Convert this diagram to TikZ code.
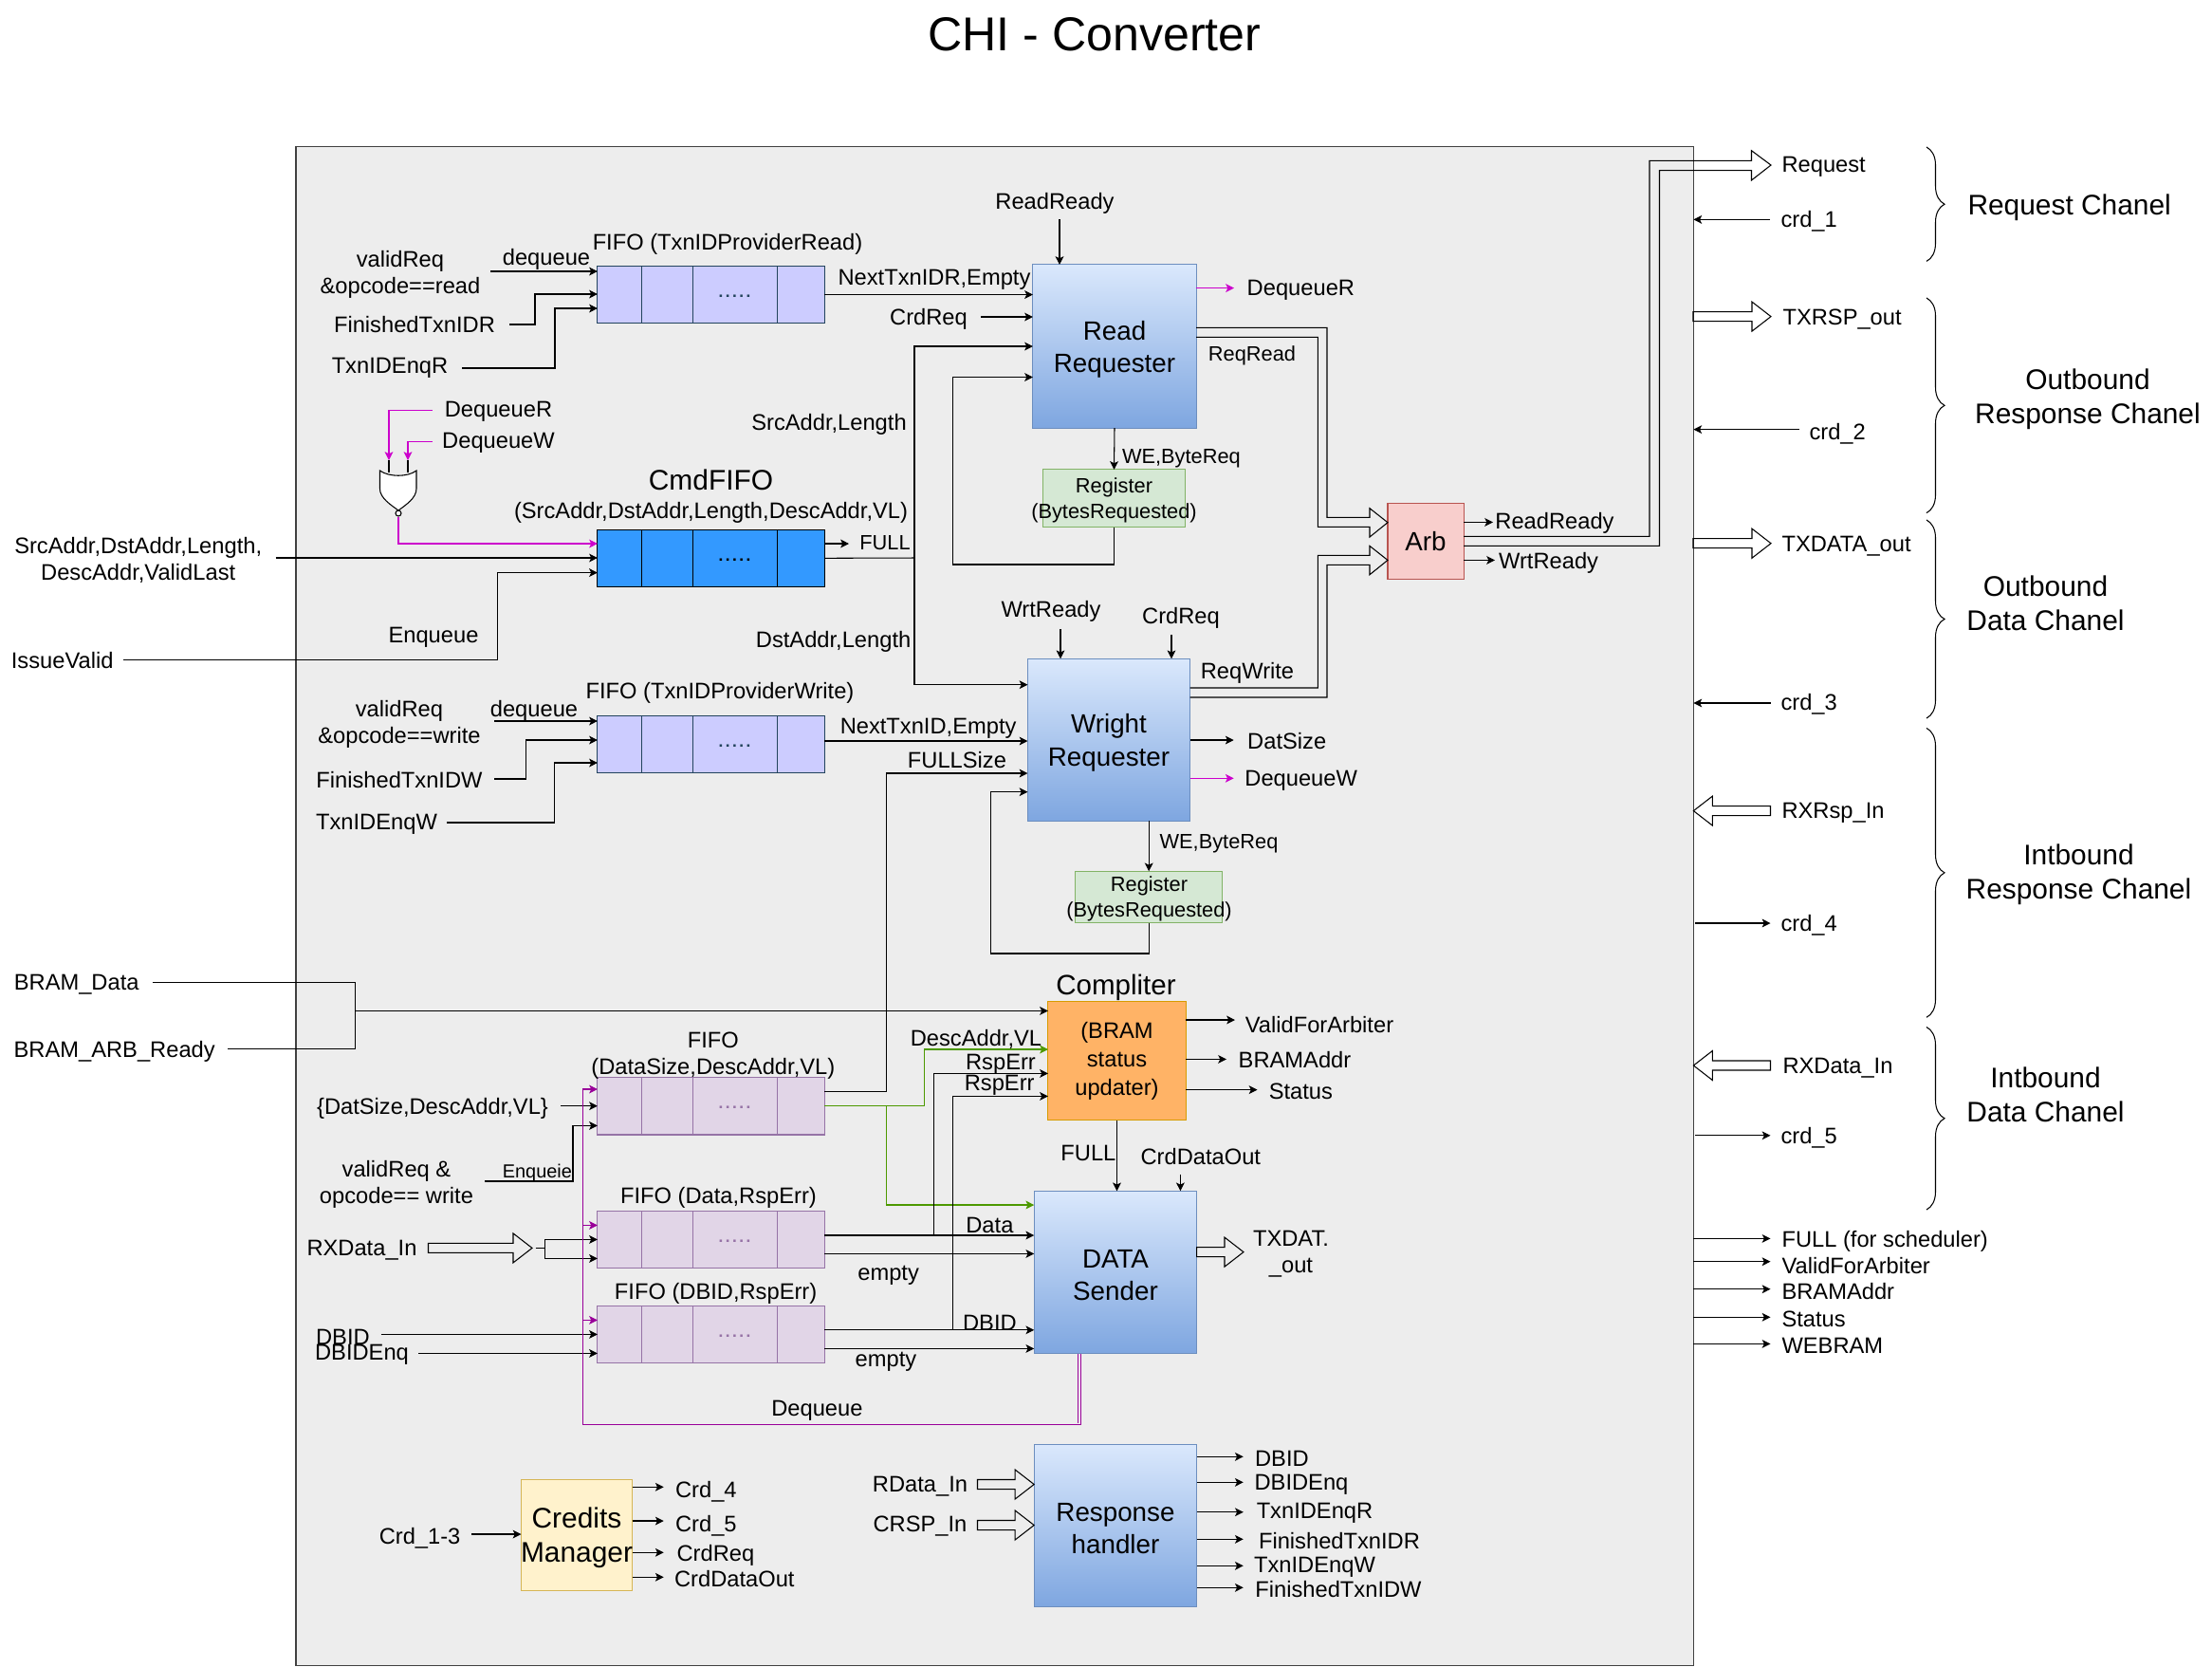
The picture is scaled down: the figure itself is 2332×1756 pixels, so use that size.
\documentclass[tikz,border=0pt]{standalone}
\usepackage{fontspec}
\setmainfont{Liberation Sans}
\usetikzlibrary{arrows.meta}
\usetikzlibrary{calc}
\usetikzlibrary{decorations.pathreplacing}
\definecolor{fifolight}{HTML}{CCCCFF}
\definecolor{fifolightline}{HTML}{23445D}
\definecolor{fifocmd}{HTML}{3399FF}
\definecolor{fifopurple}{HTML}{E1D5E7}
\definecolor{fifopurpleline}{HTML}{9673A6}
\definecolor{blocktop}{HTML}{DAE8FC}
\definecolor{blockbot}{HTML}{7EA6E0}
\definecolor{blockline}{HTML}{6C8EBF}
\definecolor{regfill}{HTML}{D5E8D4}
\definecolor{regline}{HTML}{82B366}
\definecolor{arbfill}{HTML}{F8CECC}
\definecolor{arbline}{HTML}{B85450}
\definecolor{cmplfill}{HTML}{FFB366}
\definecolor{cmplline}{HTML}{D79B00}
\definecolor{crmfill}{HTML}{FFF2CC}
\definecolor{crmline}{HTML}{D6B656}
\definecolor{sigpink}{HTML}{CC00CC}
\definecolor{sigpurple}{HTML}{990099}
\definecolor{siggreen}{HTML}{4D9900}
\tikzset{>={Stealth[length=2.5pt,width=2.5pt,inset=0.6pt]}}
\tikzset{
  lbl/.style={inner sep=0pt,align=center,yshift=-0.022cm,font=\fontsize{6.74pt}{8.1pt}\selectfont},
  lblS/.style={inner sep=0pt,align=center,yshift=-0.022cm,font=\fontsize{6.2pt}{7.7pt}\selectfont},
  lblXS/.style={inner sep=0pt,align=center,yshift=-0.022cm,font=\fontsize{5.66pt}{6.8pt}\selectfont},
  lblM/.style={inner sep=0pt,align=center,yshift=-0.03cm,font=\fontsize{7.9pt}{9.7pt}\selectfont},
  lblL/.style={inner sep=0pt,align=center,yshift=-0.03cm,font=\fontsize{8.5pt}{10.3pt}\selectfont},
  fifobox/.style={rectangle,draw,outer sep=0pt,minimum width=2.39cm,minimum height=0.605cm},
  block/.style={rectangle,draw=blockline,top color=blocktop,bottom color=blockbot,outer sep=0pt,inner sep=0pt},
  plainbox/.style={rectangle,draw,outer sep=0pt,inner sep=0pt,align=center}
}
% wide hollow arrow between two points of the same height
\newcommand{\fatarrow}[2]{
  \coordinate (fbase) at ($(#2)!0.2cm!(#1)$);
  \draw ([yshift=0.05cm]#1) -- ([yshift=0.05cm]fbase) -- ([yshift=0.155cm]fbase) -- (#2)
    -- ([yshift=-0.155cm]fbase) -- ([yshift=-0.05cm]fbase) -- ([yshift=-0.05cm]#1) -- cycle;
}
\begin{document}
\begin{tikzpicture}[x=0.01cm,y=-0.01cm,line width=0.3pt]
  \useasboundingbox (0,0) rectangle (2332,1756);

  \node[inner sep=0pt,font=\fontsize{14.25pt}{17pt}\selectfont] (title) at (1154,36) {CHI - Converter};
  \node[plainbox,draw=black!75,fill=black!7,minimum width=14.725cm,minimum height=16.0cm] (base) at (1048.7,955.2) {};

  % FIFOs
  \node[fifobox,draw=fifolightline,fill=fifolight] (fifoR) at (749.5,310.5) {};
  \node[fifobox,draw=black,fill=fifocmd] (fifoC) at (749.5,588.3) {};
  \node[fifobox,draw=fifolightline,fill=fifolight] (fifoW) at (749.5,784.3) {};
  \node[fifobox,draw=fifopurpleline,fill=fifopurple] (fifoD) at (749.5,1165.7) {};
  \node[fifobox,draw=fifopurpleline,fill=fifopurple] (fifoE) at (749.5,1306.4) {};
  \node[fifobox,draw=fifopurpleline,fill=fifopurple] (fifoB) at (749.5,1406.4) {};
  \foreach \fn/\fc in {fifoR/fifolightline,fifoC/black,fifoW/fifolightline,fifoD/fifopurpleline,fifoE/fifopurpleline,fifoB/fifopurpleline}{
    \foreach \dx in {0.465,1.006,1.894}
      \draw[\fc] ([xshift=\dx cm]\fn.north west) -- ([xshift=\dx cm]\fn.south west);
    \node[inner sep=0pt,text=\fc,font=\fontsize{6.74pt}{8.1pt}\selectfont,xscale=1.1] (\fn dots) at ([shift={(25,1.5)}]\fn.center) {.....};
  }

  % Blocks
  \node[block,minimum width=1.72cm,minimum height=1.72cm] (rqR) at (1175,365) {};
  \node[block,minimum width=1.71cm,minimum height=1.71cm] (rqW) at (1169,779.8) {};
  \node[block,minimum width=1.714cm,minimum height=1.714cm] (snd) at (1176,1341) {};
  \node[block,minimum width=1.716cm,minimum height=1.714cm] (rsp) at (1176,1608) {};
  \node[lblM] (rqRText) at (rqR) {Read\\Requester};
  \node[lblM] (rqWText) at (rqW) {Wright\\Requester};
  \node[lblM] (sndText) at (snd) {DATA\\Sender};
  \node[lblM] (rspText) at (rsp) {Response\\handler};
  \node[plainbox,draw=regline,fill=regfill,minimum width=1.5cm,minimum height=0.607cm] (regR) at (1174.5,525.3) {};
  \node[plainbox,draw=regline,fill=regfill,minimum width=1.55cm,minimum height=0.544cm] (regW) at (1211.2,945.5) {};
  \node[plainbox,draw=arbline,fill=arbfill,minimum width=0.8cm,minimum height=0.8cm,font=\fontsize{7.9pt}{9.7pt}\selectfont] (arb) at (1503,570.5) {Arb};
  \node[plainbox,draw=cmplline,fill=cmplfill,minimum width=1.45cm,minimum height=1.25cm,font=\fontsize{6.74pt}{8.5pt}\selectfont] (cmpl) at (1177.5,1118) {(BRAM\\status\\updater)};
  \node[plainbox,draw=crmline,fill=crmfill,minimum width=1.17cm,minimum height=1.174cm] (crm) at (608,1618) {};
  \node[lblL,font=\fontsize{8.5pt}{10.3pt}\selectfont] (crmText) at (608,1618) {Credits\\Manager};
  \node[lblS] (regRText) at (1174.5,525) {Register\\(BytesRequested)};
  \node[lblS] (regWText) at (1211.5,945.2) {Register\\(BytesRequested)};

  % Free ends
  \foreach \n/\x/\y in {deqRin/517/286,finRin/537/342,enqRin/487/388,crdRin/1034/334,
      deqRa/455.6/432.5,deqWa/455.6/465.7,gateA/410/485,gateB/430/485,gateAp/410/498,gateBp/430/498,
      cmdIn/290.7/588,issueIn/130/695.5,deqWin/521/760,finWin/521/821,enqWin/471.4/867,
      brD/160.7/1035.5,brA/240/1105.7,brJ/374.3/1065.4,dsIn/591/1165.7,enqDin/511/1245,
      dbidIn/401.6/1406.4,dbenqIn/441/1426.4,crdIn/497.3/1617,busB/614.6/1501.4,
      rxA/451.5/1315.4,rxTip/561/1315.4,rxS/564.6/1315.4,rxJ/574.4/1315.4,
      fullC/895/573,cmdJ/964/588,deqRout/1301/303.6,datOut/1300.7/780,deqWout/1300.7/820.3,
      rdyIn/1117/231,wrIn/1118/663,crIn/1235/669,rrOut/1574/550.4,wrOut/1576/590.4,
      vfaOut/1302/1075,baOut/1293/1116.4,stOut/1325.5/1148.6,cdoIn/1244.4/1237.5,
      reqTip/1867/174,txdA/1261.7/1319.6,txdTip/1311/1319.6,rdA/1030.5/1564.5,crspA/1030.5/1607.5,
      txrspA/1785/333.6,txrspTip/1867/333.6,txdatA/1785/572.7,txdatTip/1867/572.7,
      rxrspA/1866.5/854.6,rxdatA/1866.5/1123,
      crd1/1866/231.4,crd2/1896.6/452.6,crd3/1867/741,crd4/1866.5/973,crd5/1866.5/1196.8,
      outFull/1866.5/1305.4,outVfa/1866.5/1329.7,outBa/1866.5/1358.7,outSt/1866.5/1388.3,outWe/1866.5/1416.4,
      rspA/1310.8/1535.3,rspB/1310.8/1562.3,rspC/1310.8/1593.7,rspD/1310.8/1622.3,rspE/1310.8/1650.3,rspF/1310.8/1673.3,
      crmA/699.7/1567.3,crmB/699.7/1603,crmC/699.7/1636.3,crmD/699.7/1662.3}
    \coordinate (\n) at (\x,\y);

  % FIFO read
  \draw[->] (deqRin) -- (fifoR.west |- deqRin);
  \draw[->] (finRin) -| (564,310) -- (fifoR.west |- 0,310);
  \draw[->] (enqRin) -| (585,325) -- (fifoR.west |- 0,325);
  \draw[->] (fifoR.east) -- (rqR.west |- fifoR.east);
  \draw[->] (crdRin) -- (rqR.west |- crdRin);

  % Gate
  \draw[sigpink,->] (deqRa) -| (gateA);
  \draw[sigpink,->] (deqWa) -| (gateB);
  \draw (gateA) -- (gateAp);
  \draw (gateB) -- (gateBp);
  \draw[fill=white] (400.5,496) .. controls (410,503) and (430,503) .. (439,496) -- (439,515)
    .. controls (439,525) and (428,532) .. (420,538) .. controls (412,532) and (400.5,525) .. (400.5,515) -- cycle;
  \node[circle,draw,fill=white,inner sep=0pt,minimum size=0.06cm] (nor) at (420,541) {};
  \draw[sigpink,->] (nor.south) |- (fifoC.west |- 0,573);

  % CmdFIFO
  \draw[->] (cmdIn) -- (fifoC.west |- cmdIn);
  \draw[->] (issueIn) -| (524.5,603.6) -- (fifoC.west |- 0,603.6);
  \draw[->] (fifoC.east |- fullC) -- (fullC);
  \draw (fifoC.east) -- (cmdJ);
  \draw[->] (cmdJ) |- (rqR.west |- 0,365);
  \draw[->] (cmdJ) |- (rqW.west |- 0,721.7);

  % FIFO write
  \draw[->] (deqWin) -- (fifoW.west |- deqWin);
  \draw[->] (finWin) -| (554.6,780) -- (fifoW.west |- 0,780);
  \draw[->] (enqWin) -| (584.7,804) -- (fifoW.west |- 0,804);
  \draw[->] (fifoW.east |- 0,781) -- (rqW.west |- 0,781);

  % Requesters
  \draw[->] (rdyIn) -- (rqR.north -| rdyIn);
  \draw[sigpink,->] (rqR.east |- deqRout) -- (deqRout);
  \draw[->] (rqR.south) -- (regR.north);
  \draw[->] (regR.south) |- (1004.6,595) |- (rqR.west |- 0,397.5);
  \draw[->] (wrIn) -- (rqW.north -| wrIn);
  \draw[->] (crIn) -- (rqW.north -| crIn);
  \draw[->] (rqW.east |- datOut) -- (datOut);
  \draw[sigpink,->] (rqW.east |- deqWout) -- (deqWout);
  \draw[->] (rqW.south -| regW.north) -- (regW.north);
  \draw[->] (regW.south) |- (1044.3,1005) |- (rqW.west |- 0,834.7);

  % Arb
  \draw (rqR.east |- 0,345.4) -| (1399,545.4) -- (1444,545.4) -- (1444,535.7) -- (arb.west |- 0,550.7)
    -- (1444,566) -- (1444,555.4) -- (1389.3,555.4) |- (rqR.east |- 0,355.4);
  \draw (rqW.east |- 0,725) -| (1389.3,585.4) -- (1444,585.4) -- (1444,575.4) -- (arb.west |- 0,590.4)
    -- (1444,605.7) -- (1444,595.4) -- (1399,595.4) |- (rqW.east |- 0,735);
  \draw (arb.east |- 0,565.4) -| (1739,169.4) -- (1846.5,169.4) -- (1846.5,158.7) -- (reqTip)
    -- (1846.5,190) -- (1846.5,179.7) -- (1749.5,179.7) |- (arb.east |- 0,575.4);
  \draw[->] (arb.east |- rrOut) -- (rrOut);
  \draw[->] (arb.east |- wrOut) -- (wrOut);

  % BRAM
  \draw (brD) -| (brJ);
  \draw (brA) -| (brJ);
  \draw[->] (brJ) -- (cmpl.west |- brJ);

  % FIFO data
  \draw[->] (dsIn) -- (fifoD.west |- dsIn);
  \draw[->] (enqDin) -| (604,1186.4) -- (fifoD.west |- 0,1186.4);
  \draw[->] (fifoD.east |- 0,1150.7) -| (934.7,815) -- (rqW.west |- 0,815);
  \draw[siggreen,->] (fifoD.east) -| (974.5,1106) -- (cmpl.west |- 0,1106);
  \draw[siggreen,->] (fifoD.east) -- (934.3,1165.7) |- (snd.west |- 0,1270);

  % FIFO RspErr
  \fatarrow{rxA}{rxTip}
  \draw (rxS) -- (rxJ);
  \draw[->] (rxJ) |- (fifoE.west |- 0,1306.4);
  \draw[->] (rxJ) |- (fifoE.west |- 0,1326.4);
  \draw[->] (dbidIn) -- (fifoB.west |- dbidIn);
  \draw[->] (dbenqIn) -- (fifoB.west |- dbenqIn);
  \draw[->] (fifoE.east |- 0,1302) -- (snd.west |- 0,1302);
  \draw[->] (fifoE.east |- 0,1321.4) -- (snd.west |- 0,1321.4);
  \draw[->] (fifoB.east |- 0,1401.8) -- (snd.west |- 0,1401.8);
  \draw[->] (fifoB.east |- 0,1421.4) -- (snd.west |- 0,1421.4);
  \draw[->] (984.3,1302) |- (cmpl.west |- 0,1131.4);
  \draw[->] (1004.4,1401.8) |- (cmpl.west |- 0,1155.4);

  % Dequeue
  \draw[sigpurple] (snd.south -| 1136.5,0) -- (1136.5,1500);
  \draw[sigpurple,->] (snd.south -| 1139.5,0) |- (busB) |- (fifoD.west |- 0,1148);
  \draw[sigpurple,->] (614.6,1291.4) -- (fifoE.west |- 0,1291.4);
  \draw[sigpurple,->] (614.6,1391.4) -- (fifoB.west |- 0,1391.4);

  % Compliter
  \draw[->] (cmpl.east |- vfaOut) -- (vfaOut);
  \draw[->] (cmpl.east |- baOut) -- (baOut);
  \draw[->] (cmpl.east |- stOut) -- (stOut);
  \draw[->] (cmpl.south) -- (snd.north -| cmpl.south);
  \draw[->] (cdoIn) -- (snd.north -| cdoIn);
  \fatarrow{txdA}{txdTip}

  % Credits and response
  \draw[->] (crdIn) -- (crm.west |- crdIn);
  \draw[->] (crm.east |- crmA) -- (crmA);
  \draw[->] (crm.east |- crmB) -- (crmB);
  \draw[->] (crm.east |- crmC) -- (crmC);
  \draw[->] (crm.east |- crmD) -- (crmD);
  \fatarrow{rdA}{rsp.west |- rdA}
  \fatarrow{crspA}{rsp.west |- crspA}
  \foreach \n in {rspA,rspB,rspC,rspD,rspE,rspF}
    \draw[->] (rsp.east |- \n) -- (\n);

  % Right side
  \fatarrow{txrspA}{txrspTip}
  \fatarrow{txdatA}{txdatTip}
  \fatarrow{rxrspA}{base.east |- rxrspA}
  \fatarrow{rxdatA}{base.east |- rxdatA}
  \foreach \n in {crd1,crd2,crd3}
    \draw[->] (\n) -- (base.east |- \n);
  \foreach \n in {crd4,crd5}
    \draw[->,shorten <=0.02cm] (base.east |- \n) -- (\n);
  \foreach \n in {outFull,outVfa,outBa,outSt,outWe}
    \draw[->] (base.east |- \n) -- (\n);
  \foreach \ya/\yb in {155/275.4,314/540.6,548/757,767.4/1072.3,1082.5/1275}
    \draw[decorate,decoration={brace,amplitude=0.19cm}] (2031,\ya) -- (2031,\yb);

  % Labels
  \node[lbl] (lValidR) at (422,287) {validReq\\\&opcode==read};
  \node[lbl] (lDeqR) at (576,271) {dequeue};
  \node[lbl] (lFifoR) at (767,255) {FIFO (TxnIDProviderRead)};
  \node[lbl] (lFinR) at (437,340) {FinishedTxnIDR};
  \node[lbl] (lEnqR) at (411,386) {TxnIDEnqR};
  \node[lbl] (lNextR) at (985,293) {NextTxnIDR,Empty};
  \node[lbl] (lCrdR) at (979,334) {CrdReq};
  \node[lbl] (lSrc) at (874,445) {SrcAddr,Length};
  \node[lbl] (lDst) at (878.6,674) {DstAddr,Length};
  \node[lbl] (lDeqRa) at (525.5,432) {DequeueR};
  \node[lbl] (lDeqWa) at (525.5,465) {DequeueW};
  \node[lblL] (lCmd) at (749.5,503) {CmdFIFO};
  \node[lbl] (lCmdS) at (749.5,538) {(SrcAddr,DstAddr,Length,DescAddr,VL)};
  \node[lblS] (lFullC) at (933,570) {FULL};
  \node[lbl] (lSrcIn) at (145.7,588) {SrcAddr,DstAddr,Length,\\DescAddr,ValidLast};
  \node[lbl] (lIssue) at (65.7,694) {IssueValid};
  \node[lbl] (lEnq) at (457,670) {Enqueue};
  \node[lbl] (lFifoW) at (759,728) {FIFO (TxnIDProviderWrite)};
  \node[lbl] (lValidW) at (421,761) {validReq\\\&opcode==write};
  \node[lbl] (lDeqW) at (563,747) {dequeue};
  \node[lbl] (lFinW) at (421,819.5) {FinishedTxnIDW};
  \node[lbl] (lEnqW) at (397,866.7) {TxnIDEnqW};
  \node[lbl] (lNextW) at (978.6,766) {NextTxnID,Empty};
  \node[lbl] (lFullS) at (1009,799.3) {FULLSize};
  \node[lbl] (lRdy) at (1112,212) {ReadReady};
  \node[lbl] (lDeqRo) at (1371.4,303.6) {DequeueR};
  \node[lblS] (lReqR) at (1320,373) {ReqRead};
  \node[lblS] (lWeR) at (1245.4,481.4) {WE,ByteReq};
  \node[lbl] (lWrt) at (1108,641.8) {WrtReady};
  \node[lbl] (lCrdW) at (1245,649) {CrdReq};
  \node[lbl] (lReqW) at (1315,706.7) {ReqWrite};
  \node[lbl] (lDat) at (1356.7,779) {DatSize};
  \node[lbl] (lDeqWo) at (1371.7,821) {DequeueW};
  \node[lblS] (lWeW) at (1285,886.7) {WE,ByteReq};
  \node[lbl] (lRr) at (1639,549) {ReadReady};
  \node[lbl] (lWr) at (1632.6,591) {WrtReady};
  \node[lbl] (lBrD) at (80.7,1035) {BRAM\_Data};
  \node[lbl] (lBrA) at (120.7,1105.7) {BRAM\_ARB\_Ready};
  \node[lbl] (lFifoD) at (751.8,1110.5) {FIFO\\(DataSize,DescAddr,VL)};
  \node[lbl] (lDsIn) at (456,1166.4) {\{DatSize,DescAddr,VL\}};
  \node[lbl] (lValidD) at (418,1246) {validReq \&\\opcode== write};
  \node[lblXS] (lEnqD) at (566.4,1234) {Enqueie};
  \node[lbl] (lFifoE) at (757.5,1260) {FIFO (Data,RspErr)};
  \node[lbl] (lRxIn) at (381.5,1315.4) {RXData\_In};
  \node[lbl] (lFifoB) at (754.6,1360.7) {FIFO (DBID,RspErr)};
  \node[lbl] (lDbid) at (361.4,1407) {DBID};
  \node[lbl] (lDbEnq) at (381.5,1426) {DBIDEnq};
  \node[lbl] (lData) at (1043.4,1289.5) {Data};
  \node[lbl] (lEmptyE) at (936.6,1341.8) {empty};
  \node[lbl] (lDbidO) at (1043.4,1391.8) {DBID};
  \node[lbl] (lEmptyB) at (934,1432.9) {empty};
  \node[lbl] (lDeq) at (861.4,1485) {Dequeue};
  \node[lbl] (lDesc) at (1029,1093.6) {DescAddr,VL};
  \node[lbl] (lRspA) at (1055,1119.6) {RspErr};
  \node[lbl] (lRspB) at (1053.7,1141.8) {RspErr};
  \node[lblL,font=\fontsize{8.4pt}{10pt}\selectfont] (lCmpl) at (1176.5,1037.5) {Compliter};
  \node[lbl] (lVfa) at (1391,1077.5) {ValidForArbiter};
  \node[lbl] (lBa) at (1365,1115) {BRAMAddr};
  \node[lbl] (lSt) at (1371.4,1148.6) {Status};
  \node[lbl] (lFull) at (1147.4,1213.6) {FULL};
  \node[lbl] (lCdo) at (1265.8,1216.4) {CrdDataOut};
  \node[lbl] (lTxd) at (1361,1319.5) {TXDAT.\\\_out};
  \node[lbl] (lCrdIn) at (442.6,1619.3) {Crd\_1-3};
  \node[lbl] (lCrd4) at (744.4,1570) {Crd\_4};
  \node[lbl] (lCrd5) at (744.4,1606) {Crd\_5};
  \node[lbl] (lCrdReq) at (754.4,1636.7) {CrdReq};
  \node[lbl] (lCrdOut) at (774.3,1662.3) {CrdDataOut};
  \node[lbl] (lRd) at (970,1564.3) {RData\_In};
  \node[lbl] (lCrsp) at (970,1606.7) {CRSP\_In};
  \node[lbl] (lRspDb) at (1351.4,1534.7) {DBID};
  \node[lbl] (lRspEq) at (1372,1562.3) {DBIDEnq};
  \node[lbl] (lRspTr) at (1386,1592.7) {TxnIDEnqR};
  \node[lbl] (lRspFr) at (1412,1621.7) {FinishedTxnIDR};
  \node[lbl] (lRspTw) at (1386,1649.7) {TxnIDEnqW};
  \node[lbl] (lRspFw) at (1411,1672.7) {FinishedTxnIDW};

  % Channels
  \node[lbl,anchor=west] (lReq) at (1878,173.5) {Request};
  \node[lbl,anchor=west] (lCrd1) at (1877,231) {crd\_1};
  \node[lbl,anchor=west] (lTxr) at (1879,334.5) {TXRSP\_out};
  \node[lbl,anchor=west] (lCrd2) at (1907,455.5) {crd\_2};
  \node[lbl,anchor=west] (lTxdat) at (1878,573) {TXDATA\_out};
  \node[lbl,anchor=west] (lCrd3) at (1877,740.5) {crd\_3};
  \node[lbl,anchor=west] (lRxr) at (1878,855) {RXRsp\_In};
  \node[lbl,anchor=west] (lCrd4o) at (1877,973) {crd\_4};
  \node[lbl,anchor=west] (lRxd) at (1879,1123.5) {RXData\_In};
  \node[lbl,anchor=west] (lCrd5o) at (1877,1197) {crd\_5};
  \node[lbl,anchor=west] (lOutF) at (1878,1306) {FULL (for scheduler)};
  \node[lbl,anchor=west] (lOutV) at (1878,1332) {ValidForArbiter};
  \node[lbl,anchor=west] (lOutB) at (1878,1358.8) {BRAMAddr};
  \node[lbl,anchor=west] (lOutS) at (1878,1388.3) {Status};
  \node[lbl,anchor=west] (lOutW) at (1878,1416.5) {WEBRAM};
  \node[lblL] (lChReq) at (2181.7,216) {Request Chanel};
  \node[lblL] (lChOr) at (2201,418) {Outbound\\Response Chanel};
  \node[lblL] (lChOd) at (2156.5,633) {Outbound\\Data Chanel};
  \node[lblL] (lChIr) at (2191.5,919) {Intbound\\Response Chanel};
  \node[lblL] (lChId) at (2156.5,1151) {Intbound\\Data Chanel};
\end{tikzpicture}
\end{document}
